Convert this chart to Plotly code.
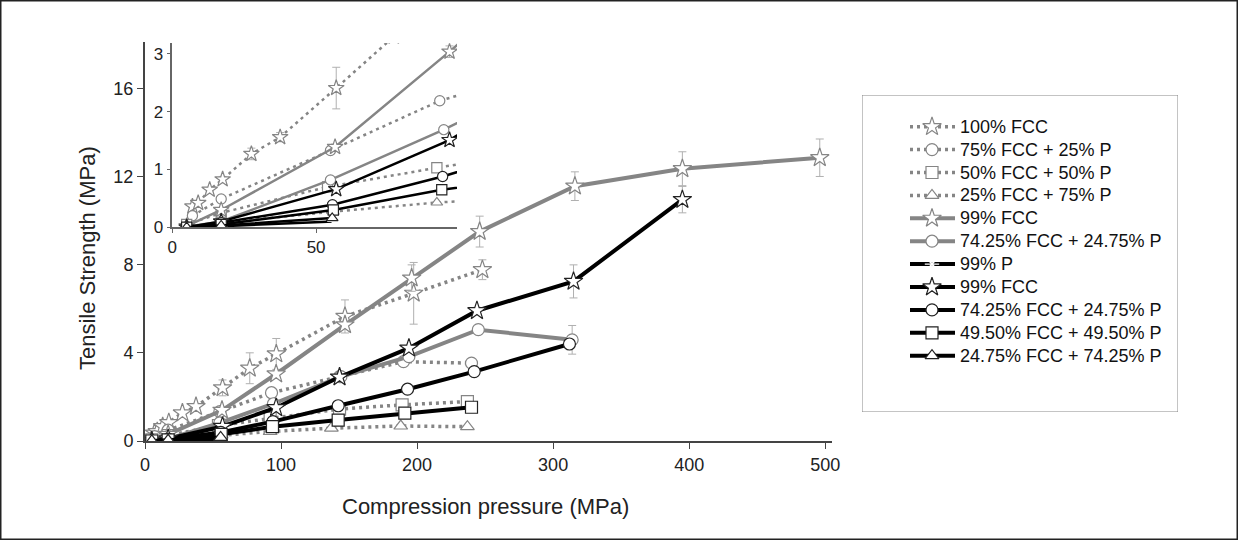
import plotly.graph_objects as go

# ---- data (MPa) ----
fcc100_x = [7, 9, 13, 17.5, 27.5, 37.5, 57, 77, 96.5, 147, 197.5, 248]
fcc100_y = [0.36, 0.42, 0.65, 0.83, 1.27, 1.56, 2.41, 3.3, 3.95, 5.65, 6.7, 7.77]
fcc100_e = [0.02, 0.02, 0.04, 0.05, 0.1, 0.08, 0.36, 0.7, 0.7, 0.75, 1.4, 0.45]

fcc75_x = [7, 17, 55, 93, 143, 190, 240]
fcc75_y = [0.2, 0.49, 1.33, 2.19, 2.92, 3.6, 3.53]

fcc50_x = [5, 17, 54, 92, 143, 189, 237]
fcc50_y = [0.05, 0.25, 0.7, 1.03, 1.45, 1.64, 1.79]

fcc25_x = [5, 17, 56, 92, 137, 188, 237]
fcc25_y = [0.02, 0.08, 0.27, 0.43, 0.58, 0.68, 0.65]

g99fcc_x = [5, 17, 56.6, 96.4, 147, 196, 246, 316, 395, 496]
g99fcc_y = [0.02, 0.3, 1.39, 3.04, 5.27, 7.39, 9.5, 11.56, 12.35, 12.85]
g99fcc_e = [0, 0, 0.05, 0.1, 0.15, 0.6, 0.7, 0.65, 0.77, 0.85]

g7425_x = [5, 17, 55, 94.4, 144, 194, 245, 314]
g7425_y = [0.01, 0.1, 0.82, 1.69, 2.92, 3.83, 5.05, 4.59]
g7425_e = [0, 0, 0.03, 0.05, 0.08, 0.1, 0.1, 0.65]

p99_x = [5, 17, 56]
p99_y = [0.0, 0.02, 0.1]

b99fcc_x = [5, 17, 57, 96.4, 143, 194, 244, 315, 395]
b99fcc_y = [0.0, 0.1, 0.66, 1.51, 2.9, 4.21, 5.91, 7.24, 10.95]
b99fcc_e = [0, 0, 0.03, 0.05, 0.1, 0.1, 0.15, 0.75, 0.6]

b7425_x = [5, 17, 55.7, 94, 142, 193, 242, 312]
b7425_y = [0.0, 0.08, 0.39, 0.88, 1.6, 2.35, 3.15, 4.4]

b4950_x = [5, 17, 56, 93.7, 142, 191, 240]
b4950_y = [0.0, 0.05, 0.3, 0.65, 0.95, 1.26, 1.53]

b2475_x = [5, 17, 55.6]
b2475_y = [0.0, 0.03, 0.16]

GRAY = "#858585"
BLACK = "#000000"
ERR = "#b0b0b0"
DOT = "3px,4px"
INSET_YMAX = 3.19

series = [
    ("100% FCC", fcc100_x, fcc100_y, fcc100_e, GRAY, DOT, 3.5, "star"),
    ("75% FCC + 25% P", fcc75_x, fcc75_y, None, GRAY, DOT, 3.5, "circle"),
    ("50% FCC + 50% P", fcc50_x, fcc50_y, None, GRAY, DOT, 3.5, "square"),
    ("25% FCC + 75% P", fcc25_x, fcc25_y, None, GRAY, DOT, 3.5, "triangle-up"),
    ("99% FCC", g99fcc_x, g99fcc_y, g99fcc_e, GRAY, "solid", 4, "star"),
    ("74.25% FCC + 24.75% P", g7425_x, g7425_y, g7425_e, GRAY, "solid", 4, "circle"),
    ("99% P", p99_x, p99_y, None, BLACK, "solid", 4, "asterisk-open"),
    ("99% FCC", b99fcc_x, b99fcc_y, b99fcc_e, BLACK, "solid", 4, "star"),
    ("74.25% FCC + 24.75% P", b7425_x, b7425_y, None, BLACK, "solid", 4, "circle"),
    ("49.50% FCC + 49.50% P", b4950_x, b4950_y, None, BLACK, "solid", 4, "square"),
    ("24.75% FCC + 74.25% P", b2475_x, b2475_y, None, BLACK, "solid", 4, "triangle-up"),
]

W, H = 1238, 540


def px(x):
    return x / W


def py(y):
    return 1 - y / H


def marker_style(col, sym, size):
    mcol = GRAY if col == GRAY or sym == "asterisk-open" else "#222"
    return dict(symbol=sym, size=size, color="white", line=dict(color=mcol, width=1.2))


fig = go.Figure()

# main plot + inset (same data, zoomed)
for xa, ya, inset in (("x", "y", False), ("x2", "y2", True)):
    for name, xs, ys, err, col, dash, w, sym in series:
        if err is not None and inset:
            # points above the inset's range get no error bar there
            err = [e if v <= INSET_YMAX else 0 for v, e in zip(ys, err)]
        ms = 0.85 if inset else 1.0
        fig.add_trace(go.Scatter(
            x=xs, y=ys, name=name, mode="lines+markers", showlegend=False,
            xaxis=xa, yaxis=ya,
            line=dict(color=col, width=2.5 if inset else w, dash=dash),
            marker=marker_style(col, sym, (14 if sym == "star" else 12) * ms),
            error_y=dict(type="data", array=err, visible=err is not None,
                         color=ERR, thickness=1, width=4),
        ))

# hand-drawn legend on its own pixel-scaled axes
LX0, LX1, LY0, LY1 = 862, 1178, 95, 412
for i, (name, xs, ys, err, col, dash, w, sym) in enumerate(series):
    ry = 126.7 + 22.9 * i
    fig.add_trace(go.Scatter(x=[910, 955], y=[ry, ry], mode="lines", showlegend=False,
                             xaxis="x3", yaxis="y3", hoverinfo="skip",
                             line=dict(color=col, width=w, dash=dash)))
    fig.add_trace(go.Scatter(x=[932], y=[ry], mode="markers", showlegend=False,
                             xaxis="x3", yaxis="y3", hoverinfo="skip",
                             marker=marker_style(col, sym, 14 if sym == "star" else 12)))
    fig.add_annotation(text=name, xref="x3", yref="y3", x=958, y=ry, xanchor="left",
                       yanchor="middle", showarrow=False, font=dict(size=18, color="#111"))

axis_common = dict(ticks="outside", showline=True, showgrid=False, zeroline=False,
                   automargin=False)

fig.update_layout(
    width=W, height=H,
    paper_bgcolor="white", plot_bgcolor="rgba(0,0,0,0)",
    margin=dict(l=0, r=0, t=0, b=0, autoexpand=False),
    font=dict(family="Liberation Sans, Arial, sans-serif", size=18, color="#222"),
    showlegend=False,
    xaxis=dict(domain=[px(145), px(832)], anchor="y", range=[0, 505],
               tickvals=[0, 100, 200, 300, 400, 500], ticklen=6,
               tickcolor="#444", linecolor="#444", linewidth=2, **axis_common),
    yaxis=dict(domain=[py(441), py(42)], anchor="x", range=[0, 18.1],
               tickvals=[0, 4, 8, 12, 16], ticklen=6,
               tickcolor="#444", linecolor="#444", linewidth=2, **axis_common),
    xaxis2=dict(domain=[px(172.3), px(457)], anchor="y2",
                range=[0, 99], tickvals=[0, 50], ticklen=4, tickcolor="#666",
                linecolor="#666", linewidth=1.5, tickfont=dict(size=17), **axis_common),
    yaxis2=dict(domain=[py(227.3), py(43)], anchor="x2",
                range=[0, INSET_YMAX], tickvals=[0, 1, 2, 3], ticklen=4, tickcolor="#666",
                linecolor="#666", linewidth=1.5, tickfont=dict(size=17), **axis_common),
    xaxis3=dict(domain=[px(LX0), px(LX1)], anchor="y3",
                range=[LX0, LX1], visible=False, fixedrange=True),
    yaxis3=dict(domain=[py(LY1), py(LY0)], anchor="x3",
                range=[LY1, LY0], visible=False, fixedrange=True),
)

# legend frame and outer frame
fig.add_shape(type="rect", xref="x3", yref="y3", x0=LX0, x1=LX1, y0=LY0, y1=LY1,
              line=dict(color="#888", width=1))
fig.add_shape(type="rect", xref="paper", yref="paper",
              x0=px(0.75), x1=px(1237.25), y0=py(539.25), y1=py(0.75),
              line=dict(color="#222", width=1.5))

# axis titles
fig.add_annotation(text="Tensile Strength (MPa)", xref="paper", yref="paper",
                   x=px(87), y=py(258), xanchor="center", yanchor="middle",
                   textangle=-90, showarrow=False, font=dict(size=22))
fig.add_annotation(text="Compression pressure (MPa)", xref="paper", yref="paper",
                   x=px(485), y=py(506), xanchor="center", yanchor="middle",
                   showarrow=False, font=dict(size=22))

fig.write_html(
    "out.html",
    config={"displayModeBar": False},
    post_script="document.body.style.margin='0';"
                "document.documentElement.style.overflow='hidden';",
)
